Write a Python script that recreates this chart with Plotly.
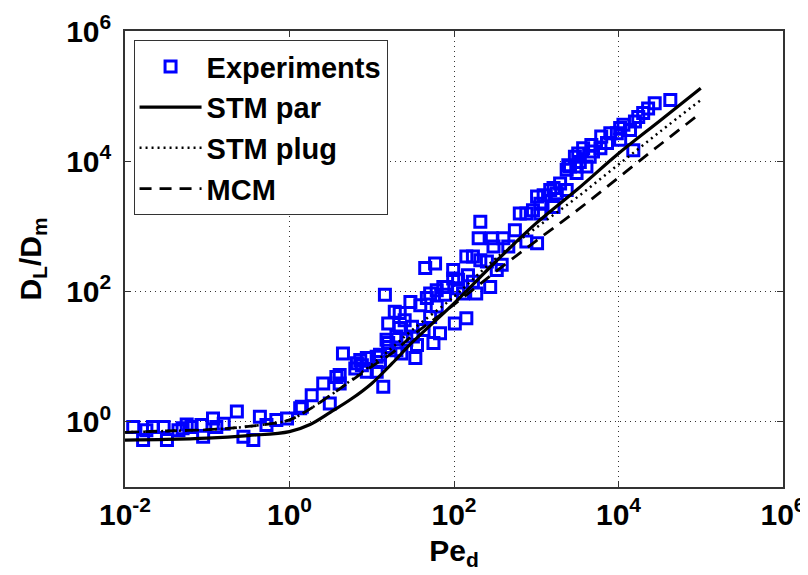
import numpy as np
import plotly.graph_objects as go

exp_log_pe = [
    -1.90, -1.78, -1.74, -1.66, -1.53, -1.49, -1.35, -1.30, -1.25, -1.19, -1.07, -1.05,
    -0.93, -0.89, -0.80, -0.64, -0.56, -0.44, -0.36, -0.28, -0.16, -0.03, 0.13, 0.15,
    0.27, 0.41, 0.49, 0.57, 0.61, 0.61, 0.65, 0.80, 0.82, 0.86, 0.88, 0.94, 0.94, 1.06,
    1.06, 1.10, 1.10, 1.14, 1.16, 1.18, 1.20, 1.20, 1.20, 1.28, 1.30, 1.30, 1.34, 1.34,
    1.36, 1.40, 1.42, 1.47, 1.49, 1.50, 1.53, 1.55, 1.59, 1.63, 1.65, 1.67, 1.71, 1.71,
    1.75, 1.77, 1.79, 1.79, 1.83, 1.87, 1.89, 1.91, 1.99, 1.99, 2.01, 2.05, 2.05, 2.11,
    2.15, 2.15, 2.17, 2.23, 2.23, 2.27, 2.30, 2.32, 2.32, 2.40, 2.44, 2.46, 2.48, 2.52,
    2.58, 2.60, 2.66, 2.74, 2.80, 2.88, 2.88, 2.96, 3.01, 3.01, 3.05, 3.05, 3.09, 3.17,
    3.21, 3.21, 3.25, 3.29, 3.37, 3.37, 3.39, 3.41, 3.47, 3.49, 3.49, 3.51, 3.53, 3.57,
    3.61, 3.65, 3.67, 3.69, 3.78, 3.79, 3.86, 3.90, 3.98, 4.02, 4.02, 4.06, 4.14, 4.18,
    4.20, 4.24, 4.30, 4.36, 4.44, 4.63,
]
exp_log_dl = [
    -0.08, -0.28, -0.13, -0.08, -0.08, -0.28, -0.13, -0.10, -0.04, -0.08, -0.05, -0.23,
    0.05, -0.08, -0.03, 0.16, -0.23, -0.28, 0.08, -0.05, 0.03, 0.05, 0.21, 0.23,
    0.41, 0.59, 0.28, 0.69, 0.59, 0.72, 1.05, 0.82, 0.90, 0.95, 0.87, 0.77, 0.98, 0.77,
    1.00, 0.92, 1.03, 0.54, 1.95, 1.26, 1.15, 1.21, 1.51, 1.69, 1.10, 1.31, 1.44, 1.67,
    1.05, 1.56, 1.26, 1.84, 1.46, 1.31, 0.98, 1.18, 1.79, 1.41, 2.36, 1.90, 1.97, 1.61,
    1.21, 2.43, 2.02, 1.77, 1.36, 2.07, 1.95, 2.07, 2.33, 2.20, 1.51, 2.18, 2.05, 1.97,
    2.54, 1.59, 2.25, 2.54, 2.15, 1.97, 2.82, 3.07, 2.48, 2.46, 2.07, 2.82, 2.69, 2.33,
    2.41, 2.82, 2.69, 2.94, 3.20, 3.20, 2.77, 3.25, 3.46, 2.74, 3.35, 3.20, 3.48, 3.56,
    3.30, 3.59, 3.51, 3.66, 3.56, 3.87, 3.94, 3.92, 4.07, 3.82, 3.92, 4.12, 3.99, 4.20,
    3.92, 4.07, 4.25, 4.15, 4.20, 4.38, 4.28, 4.43, 4.43, 4.51, 4.33, 4.56, 4.48, 4.17,
    4.61, 4.68, 4.74, 4.81, 4.89, 4.94,
]

# ---- Model curves (log10 values) ----
curve_log_pe = [-2, -1.5, -1, -0.5, 0, 0.25, 0.5, 0.75, 1, 1.25, 1.5, 2, 2.5, 3, 3.5, 4, 4.5, 5]
stm_par_log = [-0.28, -0.27, -0.25, -0.21, -0.15, -0.04, 0.15, 0.35, 0.59, 0.90, 1.23, 1.82,
               2.45, 3.05, 3.57, 4.12, 4.62, 5.12]
stm_plug_log = [-0.16, -0.14, -0.12, -0.07, 0.03, 0.20, 0.41, 0.64, 0.88, 1.14, 1.42, 1.92,
                2.50, 2.98, 3.45, 3.95, 4.45, 4.94]
mcm_log = [-0.16, -0.14, -0.12, -0.07, 0.03, 0.20, 0.41, 0.63, 0.85, 1.06, 1.33, 1.80,
           2.30, 2.78, 3.25, 3.75, 4.25, 4.74]

x_tickvals = [1e-2, 1e0, 1e2, 1e4, 1e6]
x_ticktext = ["10<sup>-2</sup>", "10<sup>0</sup>", "10<sup>2</sup>", "10<sup>4</sup>", "10<sup>6</sup>"]
y_tickvals = [1e0, 1e2, 1e4, 1e6]
y_ticktext = ["10<sup>0</sup>", "10<sup>2</sup>", "10<sup>4</sup>", "10<sup>6</sup>"]

pe = np.power(10.0, exp_log_pe)
dl = np.power(10.0, exp_log_dl)
cx = np.power(10.0, curve_log_pe)

FONT = "Liberation Sans"
FS = 30

fig = go.Figure()
fig.add_trace(go.Scatter(
    x=pe, y=dl, mode="markers", name="Experiments",
    marker=dict(symbol="square-open", size=11, color="#0000ff", line=dict(width=3, color="#0000ff")),
))
fig.add_trace(go.Scatter(x=cx, y=np.power(10.0, stm_par_log), mode="lines", name="STM par",
                         line=dict(color="black", width=3.2, shape="spline")))
fig.add_trace(go.Scatter(x=cx, y=np.power(10.0, stm_plug_log), mode="lines", name="STM plug",
                         line=dict(color="black", width=2.5, dash="2px,4px", shape="spline")))
fig.add_trace(go.Scatter(x=cx, y=np.power(10.0, mcm_log), mode="lines", name="MCM",
                         line=dict(color="black", width=2.8, dash="12px,8px", shape="spline")))

axis_common = dict(
    type="log", showline=True, linecolor="#333", linewidth=1.5, mirror="ticks",
    ticks="inside", ticklen=6, tickwidth=1.2, tickcolor="#333",
    showgrid=True, gridcolor="#333", gridwidth=1, griddash="1px,4px",
    tickfont=dict(family=FONT, size=FS, color="black", weight="bold"),
    zeroline=False, automargin=False,
)

# page body adds an 8px offset, so the figure is 800x567 with margins shifted accordingly
fig.update_layout(
    width=800, height=567, autosize=False,
    margin=dict(l=117, r=25, t=23, b=88),
    paper_bgcolor="white", plot_bgcolor="white",
    font=dict(family=FONT, size=FS, color="black", weight="bold"),
    xaxis=dict(axis_common, range=[-2, 6], tickvals=x_tickvals, ticktext=x_ticktext,
               title=dict(text="Pe<sub>d</sub>", standoff=10,
                          font=dict(family=FONT, size=FS, weight="bold"))),
    yaxis=dict(axis_common, range=[-1, 6], tickvals=y_tickvals, ticktext=y_ticktext,
               ticklabelstandoff=6,
               title=dict(text="D<sub>L</sub>/D<sub>m</sub>", standoff=16,
                          font=dict(family=FONT, size=FS, weight="bold"))),
    legend=dict(x=0.013, y=0.98, xanchor="left", yanchor="top",
                bgcolor="white", bordercolor="#333", borderwidth=1,
                font=dict(family=FONT, size=29, weight="bold"),
                itemwidth=62),
    showlegend=True,
)

fig.write_html("out.html")
